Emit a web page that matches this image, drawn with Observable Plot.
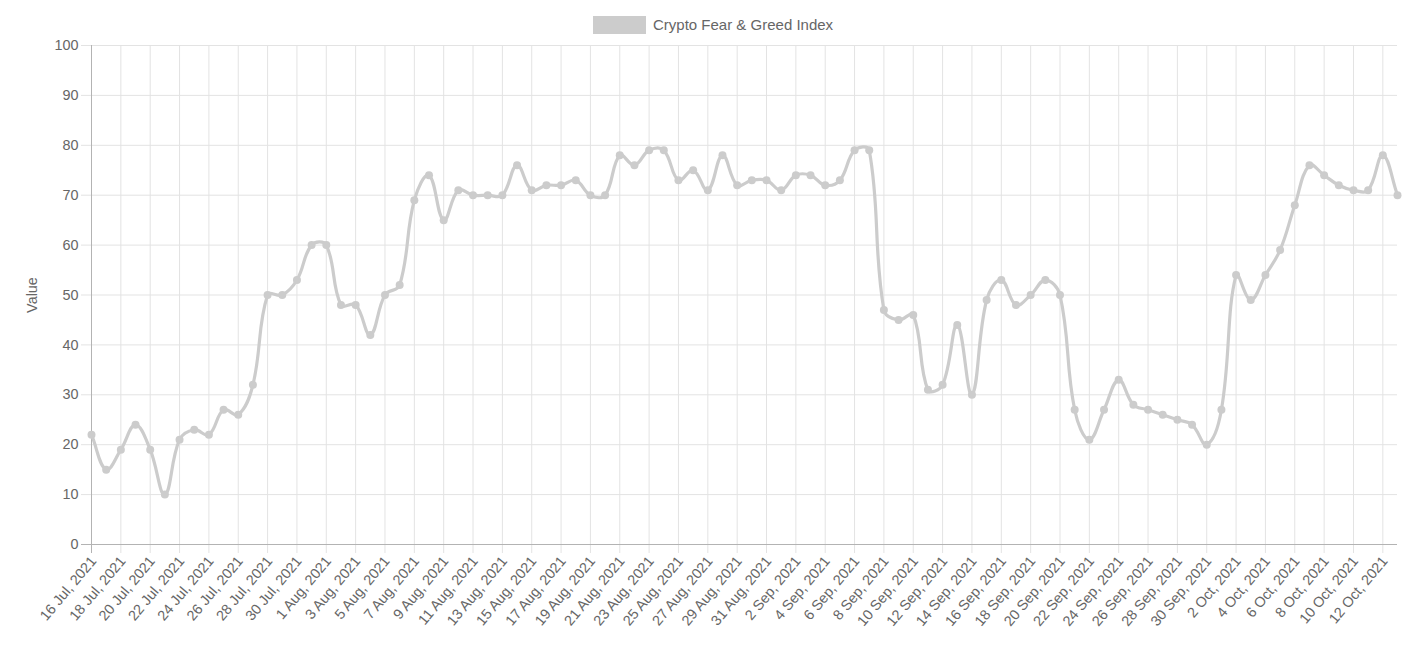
<!DOCTYPE html>
<html>
<head>
<meta charset="utf-8">
<script src="https://cdn.jsdelivr.net/npm/d3@7"></script>
<script src="https://cdn.jsdelivr.net/npm/@observablehq/plot@0.6"></script>
<style>
  html, body { margin: 0; padding: 0; background: #fff; }
  body { width: 1418px; height: 645px; overflow: hidden; font-family: "Liberation Sans", Arial, Helvetica, sans-serif; }
  #legend { position: relative; height: 38px; }
  #legend .box { position: absolute; left: 593px; top: 16px; width: 53px; height: 18px; background: #cccccc; }
  #legend .lbl { position: absolute; left: 653px; top: 16px; line-height: 18px; font-size: 15px; color: #666; white-space: nowrap; }
  #chart svg { display: block; }
</style>
</head>
<body>
<div id="legend"><div class="box"></div><div class="lbl">Crypto Fear &amp; Greed Index</div></div>
<div id="chart"></div>
<script>
// ---- data ----
const seriesName = "Crypto Fear & Greed Index";
const startDate = "2021-07-16";
const endDateExclusive = "2021-10-14";
const values = [
  22, 15, 19, 24, 19, 10, 21, 23, 22, 27, 26, 32, 50, 50, 53, 60,          // 16-31 Jul
  60, 48, 48, 42, 50, 52, 69, 74, 65, 71, 70, 70, 70, 76, 71, 72,          // 1-16 Aug
  72, 73, 70, 70, 78, 76, 79, 79, 73, 75, 71, 78, 72, 73, 73,              // 17-31 Aug
  71, 74, 74, 72, 73, 79, 79, 47, 45, 46, 31, 32, 44, 30, 49,              // 1-15 Sep
  53, 48, 50, 53, 50, 27, 21, 27, 33, 28, 27, 26, 25, 24, 20,              // 16-30 Sep
  27, 54, 49, 54, 59, 68, 76, 74, 72, 71, 71, 78, 70                       // 1-13 Oct
];
const yTicks = [0, 10, 20, 30, 40, 50, 60, 70, 80, 90, 100];
const yLabel = "Value";

const dates = d3.utcDay.range(new Date(startDate), new Date(endDateExclusive));
const data = dates.map((d, i) => ({date: d, value: values[i]}));
const xTicks = dates.filter((d, i) => i % 2 === 0);
const fmt = d3.utcFormat("%-d %b, %Y");

// Chart.js-like spline (tension 0.4)
function chartjsCurve(context) {
  let pts;
  return {
    areaStart() {}, areaEnd() {},
    lineStart() { pts = []; },
    point(x, y) { pts.push([+x, +y]); },
    lineEnd() {
      const n = pts.length;
      if (!n) return;
      const t = 0.4;
      const cp = pts.map((p, i) => {
        const prev = pts[i - 1] || p, next = pts[i + 1] || p;
        const d01 = Math.hypot(p[0] - prev[0], p[1] - prev[1]);
        const d12 = Math.hypot(next[0] - p[0], next[1] - p[1]);
        let s01 = d01 / (d01 + d12), s12 = d12 / (d01 + d12);
        if (isNaN(s01)) s01 = 0;
        if (isNaN(s12)) s12 = 0;
        const fa = t * s01, fb = t * s12;
        return {
          px: p[0] - fa * (next[0] - prev[0]), py: p[1] - fa * (next[1] - prev[1]),
          nx: p[0] + fb * (next[0] - prev[0]), ny: p[1] + fb * (next[1] - prev[1])
        };
      });
      context.moveTo(pts[0][0], pts[0][1]);
      for (let i = 1; i < n; i++) {
        context.bezierCurveTo(cp[i - 1].nx, cp[i - 1].ny, cp[i].px, cp[i].py, pts[i][0], pts[i][1]);
      }
    }
  };
}

const font = "Liberation Sans, Arial, Helvetica, sans-serif";
const chart = Plot.plot({
  width: 1418,
  height: 607,
  marginLeft: 91,
  marginRight: 21,
  marginTop: 7,
  marginBottom: 101,
  style: {fontFamily: font, fontSize: "14.4px", color: "#666", background: "#fff", overflow: "visible"},
  x: {type: "utc", domain: [dates[0], dates[dates.length - 1]], axis: null},
  y: {domain: [0, 100], axis: null},
  marks: [
    // grid
    Plot.ruleY(yTicks.filter(v => v > 0), {stroke: "#e3e3e3", insetLeft: -10}),
    Plot.ruleX(xTicks.slice(1), {stroke: "#e3e3e3", insetBottom: -9}),
    // axis lines
    Plot.ruleX([dates[0]], {stroke: "#b3b3b3", insetBottom: -9}),
    Plot.ruleY([0], {stroke: "#b3b3b3", insetLeft: -10}),
    // y tick labels
    Plot.text(yTicks, {x: dates[0], y: d => d, text: d => String(d), textAnchor: "end", dx: -13, fill: "#666", fontSize: 14.4}),
    // x tick labels
    Plot.text(xTicks, {x: d => d, frameAnchor: "bottom", dy: 14, dx: 2, rotate: -50, textAnchor: "end", lineAnchor: "middle", text: d => fmt(d), fill: "#666", fontSize: 14.4}),
    // y label
    Plot.text([yLabel], {frameAnchor: "left", dx: -59, rotate: -90, textAnchor: "middle", lineAnchor: "middle", text: d => d, fill: "#666", fontSize: 14.4}),
    // series
    Plot.line(data, {x: "date", y: "value", stroke: "#cccccc", strokeWidth: 3.2, curve: chartjsCurve}),
    Plot.dot(data, {x: "date", y: "value", r: 4, fill: "#cccccc", stroke: "none"})
  ]
});
document.getElementById("chart").appendChild(chart);
</script>
</body>
</html>
